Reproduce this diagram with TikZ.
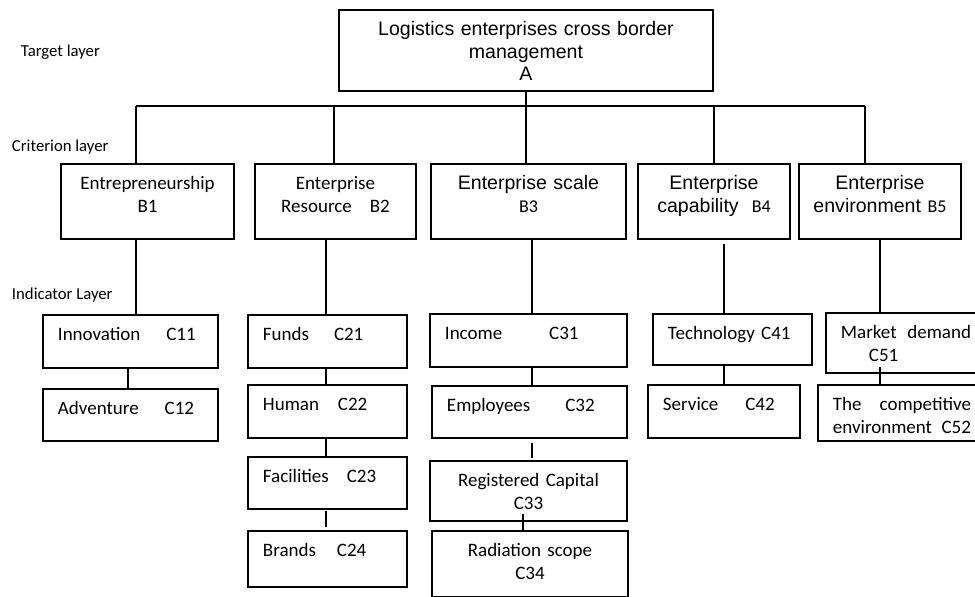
\documentclass[tikz,border=0pt]{standalone}
\usepackage{fontspec}
\setmainfont{Carlito}
\newfontfamily\headfont{Liberation Sans}

% one unit of the drawing grid
\newlength{\pxl}
\setlength{\pxl}{0.025cm}
\newcommand{\bodysize}{\fontsize{13.5}{15.8}\selectfont}
\newcommand{\headsize}{\fontsize{13.9}{16}\selectfont}
\newcommand{\layersize}{\fontsize{11.9}{14}\selectfont}
\newcommand{\idx}[1]{{\normalfont\fontsize{12.8}{14}\selectfont #1}}

\begin{document}
\begin{tikzpicture}[x=0.025cm, y=-0.025cm, line width=1.4pt, font=\bodysize,
    cbox/.style 2 args={draw, anchor=north west, inner sep=0pt, align=center,
      text width=#1*\pxl, text height=26*\pxl, text depth=(#2-26)*\pxl},
    lbox/.style 2 args={draw, anchor=north west, inner xsep=15*\pxl, inner ysep=0pt, align=left,
      text width=(#1-30)*\pxl, text height=26*\pxl, text depth=(#2-26)*\pxl},
    jbox/.style 2 args={lbox={#1}{#2}, align=justify},
    layer/.style={anchor=base west, inner sep=0pt, font=\layersize}]
  \useasboundingbox (0,0) rectangle (975,597);

  % layer names
  \node[layer] (target) at (20,57) {Target layer};
  \node[layer] (criterion) at (11,152) {Criterion layer};
  \node[layer] (indicator) at (11,300) {Indicator Layer};

  % goal
  \node[cbox={374}{81}, font=\headfont\headsize] (A) at (338,9) {Logistics enterprises cross border\\management\\A};

  % criteria
  \node[cbox={173}{75}] (B1) at (60,163) {Entrepreneurship\\B1};
  \node[cbox={161}{75}] (B2) at (254,163) {Enterprise\\Resource\hspace{18\pxl}B2};
  \node[cbox={195}{75}, font=\headfont\headsize] (B3) at (430,163) {Enterprise scale\\\idx{B3}};
  \node[cbox={152}{75}, font=\headfont\headsize] (B4) at (637,163) {Enterprise\\capability\hspace{13\pxl}\idx{B4}};
  \node[cbox={162}{75}, font=\headfont\headsize] (B5) at (798,163) {Enterprise\\environment \idx{B5}};

  % indicators
  \node[lbox={175}{53}] (C11) at (42,314) {Innovation\hspace{26\pxl}C11};
  \node[lbox={175}{52}] (C12) at (42,388) {Adventure\hspace{26\pxl}C12};

  \node[lbox={159}{53}] (C21) at (247,314) {Funds\hspace{25\pxl}C21};
  \node[lbox={159}{53}] (C22) at (247,384) {Human\hspace{19\pxl}C22};
  \node[lbox={159}{52}] (C23) at (247,456) {Facilities\hspace{18\pxl}C23};
  \node[lbox={159}{56}] (C24) at (247,530) {Brands\hspace{21\pxl}C24};

  \node[lbox={197}{53}] (C31) at (429,313) {Income\hspace{47\pxl}C31};
  \node[lbox={195}{52}] (C32) at (431,385) {Employees\hspace{35\pxl}C32};
  \node[cbox={197}{60}] (C33) at (429,460) {Registered Capital\\C33};
  \node[cbox={196}{66}] (C34) at (431,530) {Radiation scope\\C34};

  \node[lbox={159}{51}] (C41) at (652,313) {Technology C41};
  \node[lbox={152}{53}] (C42) at (647,384) {Service\hspace{27\pxl}C42};

  \node[jbox={160}{60}] (C51) at (825,312) {Market\hfill demand\\\hspace*{28\pxl}C51};
  \node[jbox={168}{56}] (C52) at (817,384) {The\hfill competitive\\environment\hfill C52};

  % goal to criteria
  \coordinate (j1) at (136,106);
  \coordinate (j2) at (334,106);
  \coordinate (j5) at (865,106);
  \draw (j1) -- (j5);
  \draw (A.south) -- (A.south |- j1);
  \draw (j1) -- (j1 |- B1.north);
  \draw (j2) -- (j2 |- B2.north);
  \draw (A.south |- j1) -- (A.south |- B3.north);
  \draw (B4.north) -- (B4.north |- j1);
  \draw (j5) -- (j5 |- B5.north);

  % criteria to indicators
  \coordinate (k1) at (128,0);
  \coordinate (k2) at (326,0);
  \coordinate (k3) at (532,0);
  \coordinate (k33) at (523,0);
  \draw (j1 |- B1.south) -- (j1 |- C11.north);
  \draw (C11.south -| k1) -- (C12.north -| k1);

  \draw (B2.south -| k2) -- (C21.north -| k2);
  \draw (C21.south -| k2) -- (C22.north -| k2);
  \draw (C22.south -| k2) -- (C23.north -| k2);
  \draw[shorten <=1.5*\pxl, shorten >=3*\pxl] (C23.south -| k2) -- (C24.north -| k2);

  \draw (B3.south -| k3) -- (C31.north -| k3);
  \draw (C31.south -| k3) -- (C32.north -| k3);
  \draw[shorten <=4*\pxl, shorten >=2*\pxl] (C32.south -| k3) -- (C33.north -| k3);
  \draw ([yshift=8*\pxl]C33.south -| k33) -- (C34.north -| k33);

  \draw[shorten <=4*\pxl] (B4.south -| C42.north) -- (C41.north -| C42.north);
  \draw (C41.south -| C42.north) -- (C42.north);

  \draw (B5.south) -- (B5.south |- C51.north);
  \draw ([yshift=7*\pxl]C51.south -| B5.south) -- (B5.south |- C52.north);
\end{tikzpicture}
\end{document}
